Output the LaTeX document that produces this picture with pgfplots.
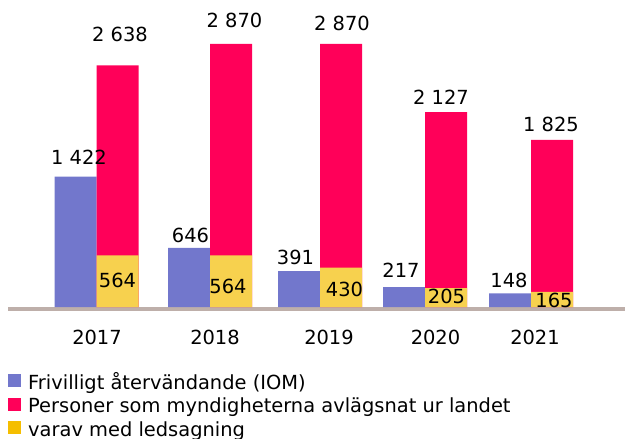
\documentclass[border=0pt]{standalone}
\usepackage{fontspec}
\setmainfont{DejaVu Sans}
\usepackage{pgfplots}
\pgfplotsset{compat=1.18}
\usepackage{pgfplotstable}
\definecolor{iomblue}{HTML}{7277CC}
\definecolor{avlpink}{HTML}{FF0059}
\definecolor{ledyellow}{HTML}{F7D14E}
\definecolor{ledlegend}{HTML}{F5BE00}
\definecolor{basegray}{HTML}{BEAFAA}

% x = group centre (bp); dx, lift = label offsets (bp)
\pgfplotstableread{
x y dx lift
96.5 1422 -17.5 12
210 646 -19.5 5
320 391 -24.5 7
425 217 -24 10
531 148 -22 6
}\frivilligt
\pgfplotstableread{
x y dx lift
96.5 2638 23.5 24
210 2870 24.5 16
320 2870 22 13
425 2127 16 8
531 1825 20 8
}\avlagsnat
\pgfplotstableread{
x y dx lift
96.5 564 21 20
210 564 18 14
320 430 24.5 11
425 205 21.5 4
531 165 23 0
}\ledsagning

\newcommand{\chartfont}{\fontsize{19.5}{23}\selectfont}

\begin{document}
\begin{tikzpicture}
\useasboundingbox (0,0) rectangle (625bp,-439bp);
\begin{axis}[
  at={(8bp,-309bp)}, anchor=south west,
  scale only axis, width=617bp, height=309bp,
  xmin=8, xmax=625, ymin=-21.8, ymax=3350,
  axis x line*=bottom, axis y line=none,
  x axis line style={-, line width=4bp, draw=basegray},
  xtick={97,215,329,435.5,535}, xticklabels={2017,2018,2019,2020,2021},
  major tick length=0pt, ytick=\empty,
  xticklabel style={anchor=base, yshift=-35bp, inner sep=0pt, font=\chartfont, text=black},
  clip=false,
  /pgf/number format/.cd, 1000 sep={\ }, assume math mode=true, /pgfplots/.cd,
  legend style={at={(axis cs:8,-731)}, anchor=north west, draw=none, fill=none,
    inner sep=0pt, row sep=4.5bp, column sep=7bp, font=\chartfont,
    nodes={inner sep=0pt, text height=14bp, text depth=4bp}},
  legend cell align=left,
  square legend/.style={legend image code/.code={\fill[##1] (0bp,-3bp) rectangle (13bp,10bp);}},
  value labels/.style={nodes near coords,
    visualization depends on={\thisrow{lift}\as\lift},
    visualization depends on={\thisrow{dx}\as\dx},
    nodes near coords style={anchor=base, inner sep=0pt, xshift=\dx*1bp, yshift=\lift*1bp,
      font=\chartfont, text=black}},
]
\addplot[ybar, bar width=42bp, bar shift=-21bp, fill=iomblue, draw=none,
  value labels, square legend] table[x=x,y=y] {\frivilligt};
\addlegendentry{Frivilligt återvändande (IOM)}
\addplot[ybar, bar width=42bp, bar shift=21bp, fill=avlpink, draw=none,
  value labels, square legend] table[x=x,y=y] {\avlagsnat};
\addlegendentry{Personer som myndigheterna avlägsnat ur landet}
\addplot[ybar, bar width=42bp, bar shift=21bp, fill=ledyellow, draw=none, forget plot,
  value labels, visualization depends on={\thisrow{y}\as\rawy},
  nodes near coords style={shift={(axis direction cs:0,-\rawy)}}]
  table[x=x,y=y] {\ledsagning};
\addlegendimage{fill=ledlegend, draw=none, square legend}
\addlegendentry{varav med ledsagning}
\end{axis}
\end{tikzpicture}
\end{document}
